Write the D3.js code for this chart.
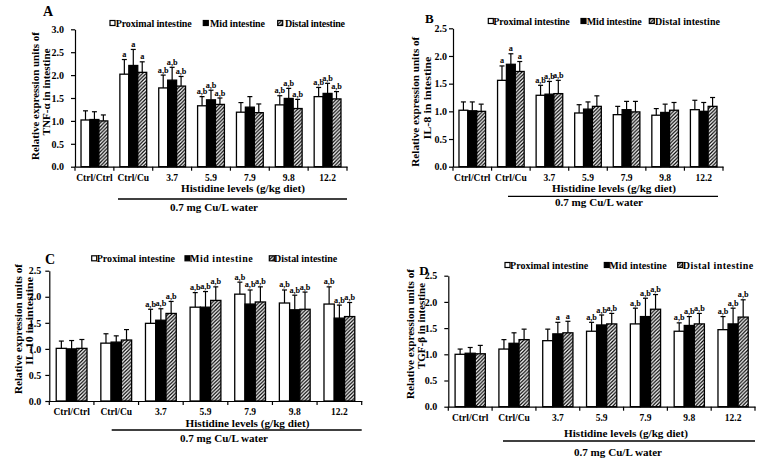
<!DOCTYPE html>
<html><head><meta charset="utf-8">
<script src="https://cdn.jsdelivr.net/npm/d3@7"></script>
<style>
body{margin:0;background:#fff;}
svg text{font-family:"Liberation Serif","Times New Roman",serif;font-weight:bold;fill:#000;}
</style></head>
<body><svg id="c" width="766" height="462"></svg>
<script>
const categories = ["Ctrl/Ctrl","Ctrl/Cu","3.7","5.9","7.9","9.8","12.2"];
const seriesNames = ["Proximal intestine","Mid intestine","Distal intestine"];

// Panel A: TNF-α
const tnfProximal = [1.02, 2.02, 1.72, 1.33, 1.19, 1.35, 1.53];
const tnfMid      = [1.03, 2.21, 1.89, 1.46, 1.30, 1.49, 1.60];
const tnfDistal   = [1.00, 2.06, 1.76, 1.36, 1.18, 1.27, 1.48];
const tnfProximalErr = [0.20, 0.32, 0.28, 0.20, 0.21, 0.20, 0.20];
const tnfMidErr      = [0.17, 0.35, 0.28, 0.21, 0.23, 0.22, 0.22];
const tnfDistalErr   = [0.13, 0.23, 0.21, 0.14, 0.19, 0.20, 0.16];
const tnfLetters = ["", "a", "a,b", "a,b", "", "a,b", "a,b"];
const tnfTicks = [0, 0.5, 1.0, 1.5, 2.0, 2.5, 3.0];

// Panel B: IL-8
const il8Proximal = [1.02, 1.56, 1.29, 0.97, 0.94, 0.93, 1.03];
const il8Mid      = [1.01, 1.85, 1.31, 1.04, 1.03, 0.98, 1.00];
const il8Distal   = [1.00, 1.72, 1.32, 1.09, 0.99, 1.02, 1.09];
const il8ProximalErr = [0.15, 0.26, 0.18, 0.15, 0.15, 0.12, 0.17];
const il8MidErr      = [0.16, 0.19, 0.23, 0.13, 0.15, 0.15, 0.16];
const il8DistalErr   = [0.13, 0.18, 0.24, 0.19, 0.19, 0.14, 0.16];
const il8Letters = ["", "a", "a,b", "", "", "", ""];
const il8Ticks = [0, 0.5, 1.0, 1.5, 2.0, 2.5];

// Panel C: IL-10
const il10Proximal = [1.01, 1.11, 1.49, 1.80, 2.05, 1.88, 1.86];
const il10Mid      = [1.00, 1.13, 1.55, 1.80, 1.86, 1.75, 1.59];
const il10Distal   = [1.01, 1.17, 1.68, 1.93, 1.90, 1.76, 1.62];
const il10ProximalErr = [0.14, 0.18, 0.27, 0.28, 0.23, 0.25, 0.33];
const il10MidErr      = [0.16, 0.12, 0.22, 0.30, 0.27, 0.28, 0.25];
const il10DistalErr   = [0.17, 0.20, 0.23, 0.26, 0.29, 0.33, 0.27];
const il10Letters = ["", "", "a,b", "a,b", "a,b", "a,b", "a,b"];
const il10Ticks = [0, 0.5, 1.0, 1.5, 2.0, 2.5];

// Panel D: TGF-β
const tgfProximal = [1.00, 1.10, 1.26, 1.44, 1.58, 1.44, 1.47];
const tgfMid      = [1.02, 1.21, 1.39, 1.56, 1.72, 1.55, 1.58];
const tgfDistal   = [1.01, 1.28, 1.41, 1.58, 1.86, 1.58, 1.71];
const tgfProximalErr = [0.10, 0.18, 0.22, 0.17, 0.30, 0.16, 0.25];
const tgfMidErr      = [0.11, 0.20, 0.22, 0.19, 0.35, 0.17, 0.30];
const tgfDistalErr   = [0.16, 0.20, 0.22, 0.20, 0.28, 0.20, 0.33];
const tgfProximalLetters = ["", "", "", "a,b", "a,b", "a,b", "a,b"];
const tgfOtherLetters = ["", "", "a", "a,b", "a,b", "a,b", "a,b"];
const tgfTicks = [0, 0.5, 1.0, 1.5, 2.0, 2.5];

const xTitleA = "Histidine levels (g/kg diet)";
const xTitleB = "Histidine  levels (g/kg diet)";
const groupTitle = "0.7 mg Cu/L water";
const yTitle1 = "Relative expression units of";

const svg = d3.select("#c");
const defs = svg.append("defs");
const pat = defs.append("pattern").attr("id","hatch").attr("patternUnits","userSpaceOnUse")
  .attr("width",3.6).attr("height",3.6);
pat.append("rect").attr("width",3.6).attr("height",3.6).attr("fill","#fff");
pat.append("path").attr("d","M-1,1 L1,-1 M0,3.6 L3.6,0 M2.6,4.6 L4.6,2.6")
  .attr("stroke","#000").attr("stroke-width",1.25);
const fills = ["#fff","#000","url(#hatch)"];

const panels = [
  {letter:"A", lx:43, ly:16, ls:14,
   x0:75, x1:347, yZero:166.7, yTopPx:29.3, yMax:3.0, ticks:tnfTicks, tOff:-11,
   values:[tnfProximal,tnfMid,tnfDistal], errs:[tnfProximalErr,tnfMidErr,tnfDistalErr],
   letters:[tnfLetters,tnfLetters,tnfLetters],
   legendY:23, legend:[[110,115.7,76],[203.3,210,55],[277.7,285,60]],
   tickY:181, xTitle:xTitleA, xTitleX:243, xTitleY:191.5, lineY:199, lineX:[118,347], grpX:214, grpY:211,
   yt:["TNF-α in intestine"], ytX:[35,46], ytC:[96,92], ytL:[128,87]},
  {letter:"B", lx:425, ly:22.5, ls:13,
   x0:453, x1:723, yZero:166.7, yTopPx:28.3, yMax:2.5, ticks:il8Ticks, tOff:-6,
   values:[il8Proximal,il8Mid,il8Distal], errs:[il8ProximalErr,il8MidErr,il8DistalErr],
   letters:[il8Letters,il8Letters,il8Letters],
   legendY:21, legend:[[488.3,493.3,76.5],[581,586.7,55],[649.3,655,65]],
   tickY:181, xTitle:xTitleB, xTitleX:614, xTitleY:191.5, lineY:196.3, lineX:[508,718], grpX:599, grpY:205.5,
   yt:["IL-8  in intestine"], ytX:[415,426.5], ytC:[101.7,98], ytL:[130,83]},
  {letter:"C", lx:45, ly:264, ls:14,
   x0:49.3, x1:361.7, yZero:401, yTopPx:270.7, yMax:2.5, ticks:il10Ticks, tOff:-8,
   values:[il10Proximal,il10Mid,il10Distal], errs:[il10ProximalErr,il10MidErr,il10DistalErr],
   letters:[il10Letters,il10Letters,il10Letters],
   legendY:258.3, legend:[[91.7,96.7,78.3],[185,190,62.7],[269.3,274,63.3]],
   tickY:414.5, xTitle:xTitleA, xTitleX:247.5, xTitleY:426.5, lineY:430, lineX:[111.7,361.7], grpX:224, grpY:442,
   yt:["IL-10 in intestine"], ytX:[18,28.5], ytC:[329,321], ytL:[130,88]},
  {letter:"D", lx:419.3, ly:275, ls:13,
   x0:448.3, x1:755, yZero:406.7, yTopPx:275.7, yMax:2.5, ticks:tgfTicks, tOff:-11,
   values:[tgfProximal,tgfMid,tgfDistal], errs:[tgfProximalErr,tgfMidErr,tgfDistalErr],
   letters:[tgfProximalLetters,tgfOtherLetters,tgfOtherLetters],
   legendY:265, legend:[[505,510,78.3],[604.3,609.3,57.4],[677.7,682.7,70.6]],
   tickY:421.5, xTitle:xTitleA, xTitleX:626, xTitleY:436.5, lineY:441, lineX:[503,755], grpX:618, grpY:455.5,
   yt:["TGF-β in intestine"], ytX:[410,420.5], ytC:[334,326], ytL:[130,86]}
];

panels.forEach(p => {
  const g = svg.append("g");
  const y = d3.scaleLinear().domain([0, p.yMax]).range([p.yZero, p.yTopPx]);
  const xb = d3.scaleBand().domain(categories).range([p.x0, p.x1]).padding(0);
  const bw = xb.bandwidth();
  const inner = d3.scaleBand().domain(d3.range(3)).range([bw*0.155, bw*0.845]).padding(0);
  const w = inner.bandwidth();

  p.values.forEach((vals, si) => {
    const sg = g.append("g");
    categories.forEach((c, ci) => {
      const v = vals[ci], e = p.errs[si][ci];
      const bx = xb(c) + inner(si);
      const cx = bx + w/2;
      sg.append("line").attr("x1",cx).attr("x2",cx).attr("y1",y(v)).attr("y2",y(v+e))
        .attr("stroke","#000").attr("stroke-width",1.2);
      sg.append("line").attr("x1",cx-2.5).attr("x2",cx+2.5).attr("y1",y(v+e)).attr("y2",y(v+e))
        .attr("stroke","#000").attr("stroke-width",1.2);
      sg.append("rect").attr("x",bx).attr("y",y(v)).attr("width",w).attr("height",y(0)-y(v))
        .attr("fill",fills[si]).attr("stroke","#000").attr("stroke-width",1.3);
      const lt = p.letters[si][ci];
      if (lt) sg.append("text").attr("x",cx).attr("y",y(v+e)-2.5).attr("text-anchor","middle")
        .attr("font-size","8.2px").text(lt);
    });
  });

  const ya = g.append("g").attr("transform",`translate(${p.x0},0)`)
    .call(d3.axisLeft(y).tickValues(p.ticks).tickFormat(d3.format(".1f")).tickSize(4).tickSizeOuter(0));
  ya.selectAll("path,line").attr("stroke","#000").attr("stroke-width",1.2);
  ya.selectAll("text").attr("font-size","10px").attr("font-family","Liberation Serif, serif").attr("font-weight","bold").attr("x",p.tOff);

  const xa = g.append("g").attr("transform",`translate(0,${p.yZero})`)
    .call(d3.axisBottom(xb).tickSize(0).tickPadding(0));
  xa.select("path").attr("stroke","#000").attr("stroke-width",1.2);
  xa.selectAll("text").attr("font-size","9.5px").attr("font-family","Liberation Serif, serif")
    .attr("font-weight","bold").attr("dy",null).attr("y", p.tickY - p.yZero);
  const bounds = categories.map(c => xb(c)).concat([p.x1]);
  xa.selectAll(".sep").data(bounds).enter().append("line").attr("class","sep")
    .attr("x1",d=>d).attr("x2",d=>d).attr("y1",0).attr("y2",4).attr("stroke","#000").attr("stroke-width",1.2);

  g.append("text").attr("x",p.xTitleX).attr("y",p.xTitleY).attr("text-anchor","middle")
    .attr("font-size","10.5px").attr("textLength",124).attr("lengthAdjust","spacingAndGlyphs").text(p.xTitle);
  g.append("line").attr("x1",p.lineX[0]).attr("x2",p.lineX[1]).attr("y1",p.lineY).attr("y2",p.lineY)
    .attr("stroke","#000").attr("stroke-width",1.3);
  g.append("text").attr("x",p.grpX).attr("y",p.grpY).attr("text-anchor","middle")
    .attr("font-size","11px").attr("textLength",88).attr("lengthAdjust","spacingAndGlyphs").text(groupTitle);

  const yl = [yTitle1, p.yt[0]];
  yl.forEach((t, i) => {
    g.append("text").attr("transform",`translate(${p.ytX[i]+4},${p.ytC[i]}) rotate(-90)`)
      .attr("text-anchor","middle").attr("font-size","11px")
      .attr("textLength",p.ytL[i]).attr("lengthAdjust","spacingAndGlyphs").text(t);
  });

  g.append("text").attr("x",p.lx).attr("y",p.ly).attr("font-size",p.ls+"px").text(p.letter);

  seriesNames.forEach((s, si) => {
    const L = p.legend[si];
    g.append("rect").attr("x",L[0]).attr("y",p.legendY-2.5).attr("width",5).attr("height",5)
      .attr("fill", si===2 ? "url(#hatch)" : fills[si]).attr("stroke","#000").attr("stroke-width",1.2);
    g.append("text").attr("x",L[1]).attr("y",p.legendY+3.5).attr("font-size","10px")
      .attr("textLength",L[2]).attr("lengthAdjust","spacing").text(s);
  });
});
</script></body></html>
